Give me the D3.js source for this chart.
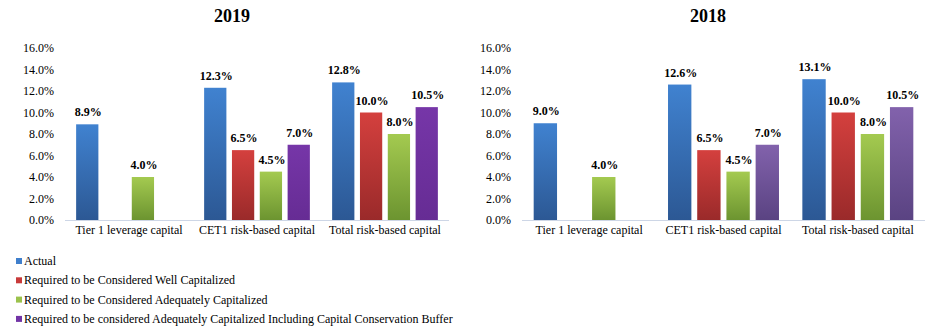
<!DOCTYPE html>
<html>
<head>
<meta charset="utf-8">
<script src="https://cdn.jsdelivr.net/npm/d3@7"></script>
<style>
  body { margin: 0; background: #fff; }
  svg { display: block; }
  text { font-family: "Liberation Serif", "Times New Roman", serif; fill: #000; }
</style>
</head>
<body>
<svg id="chart" width="946" height="329"></svg>
<script>
const categories = ["Tier 1 leverage capital", "CET1 risk-based capital", "Total risk-based capital"];
const seriesNames = [
  "Actual",
  "Required to be Considered Well Capitalized",
  "Required to be Considered Adequately Capitalized",
  "Required to be considered Adequately Capitalized Including Capital Conservation Buffer"
];
// values per series, per category (null = no bar)
const values2019 = [
  [8.9, 12.3, 12.8],
  [null, 6.5, 10.0],
  [4.0, 4.5, 8.0],
  [null, 7.0, 10.5]
];
const values2018 = [
  [9.0, 12.6, 13.1],
  [null, 6.5, 10.0],
  [4.0, 4.5, 8.0],
  [null, 7.0, 10.5]
];
const yTicks = [0, 2, 4, 6, 8, 10, 12, 14, 16];

const svg = d3.select("#chart");
const defs = svg.append("defs");

function grad(id, top, bottom) {
  const g = defs.append("linearGradient").attr("id", id)
    .attr("x1", 0).attr("y1", 0).attr("x2", 0).attr("y2", 1);
  g.append("stop").attr("offset", "0%").attr("stop-color", top);
  g.append("stop").attr("offset", "100%").attr("stop-color", bottom);
}
grad("g-blue", "#4082d0", "#2c5894");
grad("g-red", "#d4403e", "#9a2a2a");
grad("g-green", "#a4ca50", "#6c9430");
grad("g-purple19", "#7636a8", "#662c94");
grad("g-purple18", "#8262ac", "#5a4382");

const legendColors = ["#3f7fcc", "#c83a3a", "#9bc24c", "#7234a6"];

function drawChart(title, values, x0, x1, titleX, purpleId) {
  const g = svg.append("g");
  const y = d3.scaleLinear().domain([0, 16]).range([220, 48]);
  const x = d3.scaleBand().domain(categories).range([x0, x1]).paddingInner(0).paddingOuter(0);
  const xs = d3.scaleBand().domain(d3.range(4)).range([0, x.bandwidth()]).paddingInner(0.2).paddingOuter(0.4);
  const fills = ["url(#g-blue)", "url(#g-red)", "url(#g-green)", "url(#" + purpleId + ")"];

  g.append("text").attr("x", titleX).attr("y", 22)
    .attr("text-anchor", "middle").attr("font-weight", "bold").attr("font-size", 18)
    .text(title);

  // y axis labels
  const yAxis = d3.axisLeft(y).tickValues(yTicks).tickSize(0).tickPadding(0)
    .tickFormat(d => d.toFixed(1) + "%");
  const ya = g.append("g").attr("transform", `translate(${x0 - 11},0)`).call(yAxis);
  ya.select(".domain").remove();
  ya.selectAll("text").attr("font-size", 12).attr("font-family", "Liberation Serif, serif").attr("fill", "#000");

  // baseline
  g.append("line").attr("x1", x0).attr("x2", x1).attr("y1", y(0) + 0.5).attr("y2", y(0) + 0.5)
    .attr("stroke", "#cdd6e6").attr("stroke-width", 1);

  // x axis labels
  const xAxis = d3.axisBottom(x).tickSize(0).tickPadding(0);
  const xa = g.append("g").attr("transform", `translate(0,${y(0)})`).call(xAxis);
  xa.select(".domain").remove();
  xa.selectAll("text").attr("font-size", 12).attr("font-family", "Liberation Serif, serif")
    .attr("fill", "#000").attr("dy", "1.15em");

  values.forEach((arr, si) => {
    arr.forEach((v, ci) => {
      if (v === null) return;
      const bx = x(categories[ci]) + xs(si);
      g.append("rect").attr("x", bx).attr("y", y(v))
        .attr("width", xs.bandwidth()).attr("height", y(0) - y(v))
        .attr("fill", fills[si]);
      g.append("text").attr("x", bx + xs.bandwidth() / 2 + 1).attr("y", y(v) - 8)
        .attr("text-anchor", "middle").attr("font-weight", "bold").attr("font-size", 12)
        .text(v.toFixed(1) + "%");
    });
  });
}

drawChart("2019", values2019, 65, 449, 232, "g-purple19");
drawChart("2018", values2018, 522, 925, 708, "g-purple18");

// legend
const lg = svg.append("g");
seriesNames.forEach((name, i) => {
  const cy = 261 + i * 19.3;
  lg.append("rect").attr("x", 16).attr("y", cy - 3).attr("width", 6).attr("height", 6)
    .attr("fill", legendColors[i]);
  lg.append("text").attr("x", 24).attr("y", cy + 4)
    .attr("font-family", "Liberation Serif, serif").attr("font-size", 12).text(name);
});
</script>
</body>
</html>
